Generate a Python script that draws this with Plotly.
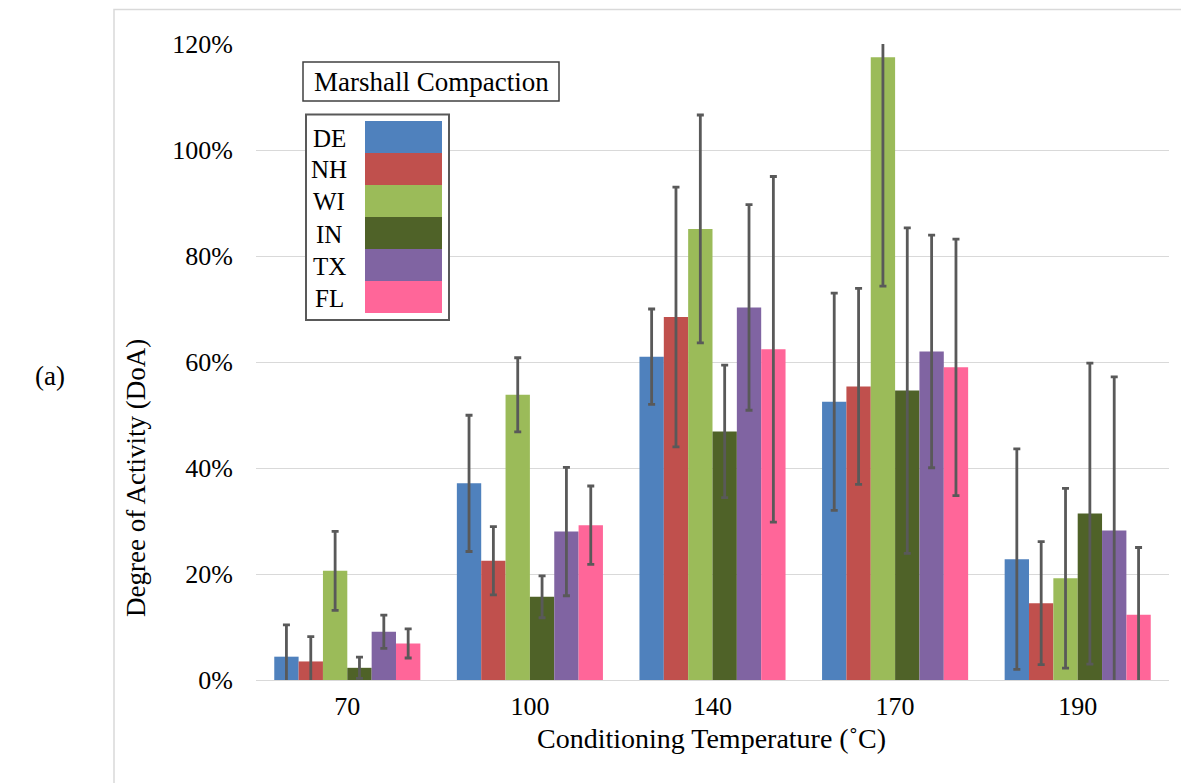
import plotly.graph_objects as go

# Conditioning temperatures (x categories)
temperatures = ["70", "100", "140", "170", "190"]

# Degree of Activity (%) per source, with error bar half-widths (%)
series_names = ["DE", "NH", "WI", "IN", "TX", "FL"]
series_colors = ["#4F81BD", "#C0504D", "#9BBB59", "#4F6228", "#8064A2", "#FF6699"]

de_vals = [4.4, 37.1, 61.0, 52.5, 22.8]
nh_vals = [3.5, 22.5, 68.5, 55.4, 14.5]
wi_vals = [20.6, 53.8, 85.1, 117.5, 19.2]
in_vals = [2.3, 15.7, 46.9, 54.6, 31.4]
tx_vals = [9.1, 28.0, 70.3, 62.0, 28.2]
fl_vals = [6.9, 29.2, 62.4, 59.0, 12.3]

de_err = [6.0, 12.85, 9.0, 20.5, 20.8]
nh_err = [4.7, 6.45, 24.5, 18.5, 11.6]
wi_err = [7.45, 7.0, 21.5, 43.2, 16.95]
in_err = [2.0, 3.95, 12.5, 30.7, 28.4]
tx_err = [3.15, 12.1, 19.4, 21.95, 29.0]
fl_err = [2.75, 7.4, 32.6, 24.2, 12.7]

values = [de_vals, nh_vals, wi_vals, in_vals, tx_vals, fl_vals]
errors = [de_err, nh_err, wi_err, in_err, tx_err, fl_err]

legend_title = "Marshall Compaction"
x_title = "Conditioning Temperature (˚C)"
y_title = "Degree of Activity (DoA)"
panel_label = "(a)"

FONT = "Liberation Serif, Times New Roman, serif"
W, H = 1181, 783
ML, MR, MT, MB = 256, 12, 44, 103
PW, PH = W - ML - MR, H - MT - MB


def px(x):
    return (x - ML) / PW


def py(y):
    return (H - MB - y) / PH


fig = go.Figure()
for name, color, vals, errs in zip(series_names, series_colors, values, errors):
    fig.add_trace(go.Bar(
        name=name, x=temperatures, y=vals,
        marker=dict(color=color, line=dict(width=0)),
        error_y=dict(type="data", array=errs, symmetric=True,
                     color="#595959", thickness=2.8, width=3.5),
        showlegend=False,
    ))

shapes = []
annotations = []

# outer chart frame (top and left edges visible)
shapes.append(dict(type="rect", xref="paper", yref="paper",
                   x0=px(114), x1=px(W + 20), y0=py(9.5), y1=py(H + 20),
                   line=dict(color="#d9d9d9", width=1.5), layer="below"))

# legend title box
shapes.append(dict(type="rect", xref="paper", yref="paper",
                   x0=px(303), x1=px(559), y0=py(62), y1=py(101),
                   line=dict(color="#404040", width=1.5), fillcolor="white"))
annotations.append(dict(text=legend_title, xref="paper", yref="paper",
                        x=px(431), y=py(81.5), xanchor="center", yanchor="middle",
                        showarrow=False, font=dict(family=FONT, size=27, color="black")))

# legend box with stacked colour swatches
shapes.append(dict(type="rect", xref="paper", yref="paper",
                   x0=px(306), x1=px(449), y0=py(114.5), y1=py(320),
                   line=dict(color="#595959", width=2), fillcolor="white"))
sw_top, sw_h = 121, 32
for i, (name, color) in enumerate(zip(series_names, series_colors)):
    y0 = sw_top + i * sw_h
    shapes.append(dict(type="rect", xref="paper", yref="paper",
                       x0=px(365), x1=px(442), y0=py(y0), y1=py(y0 + sw_h),
                       line=dict(width=0), fillcolor=color))
    annotations.append(dict(text=name, xref="paper", yref="paper",
                            x=px(329), y=py(y0 + sw_h / 2 + 1), xanchor="center",
                            yanchor="middle", showarrow=False,
                            font=dict(family=FONT, size=25, color="black")))

# axis titles and panel label
annotations.append(dict(text=x_title, xref="paper", yref="paper",
                        x=px(711), y=py(738), xanchor="center", yanchor="middle",
                        showarrow=False, font=dict(family=FONT, size=28, color="black")))
annotations.append(dict(text=y_title, xref="paper", yref="paper",
                        x=px(136), y=py(478), xanchor="center", yanchor="middle",
                        textangle=-90, showarrow=False,
                        font=dict(family=FONT, size=27, color="black")))
annotations.append(dict(text=panel_label, xref="paper", yref="paper",
                        x=px(50), y=py(376), xanchor="center", yanchor="middle",
                        showarrow=False, font=dict(family=FONT, size=27, color="black")))

fig.update_layout(
    width=W, height=H,
    margin=dict(l=ML, r=MR, t=MT, b=MB, autoexpand=False),
    paper_bgcolor="white", plot_bgcolor="white",
    barmode="group", bargap=0.2, bargroupgap=0,
    font=dict(family=FONT, size=26, color="black"),
    shapes=shapes, annotations=annotations,
    xaxis=dict(type="category", showgrid=False, showline=False, ticks="",
               zeroline=False, ticklabelstandoff=8,
               tickfont=dict(family=FONT, size=26, color="black")),
    yaxis=dict(range=[0, 120], dtick=20, ticksuffix="%", showgrid=True,
               gridcolor="#d9d9d9", gridwidth=1.4, zeroline=True,
               zerolinecolor="#d9d9d9", zerolinewidth=1.4, showline=False,
               ticks="", ticklabelstandoff=22,
               tickfont=dict(family=FONT, size=26, color="black")),
)

fig.write_html("out.html")
